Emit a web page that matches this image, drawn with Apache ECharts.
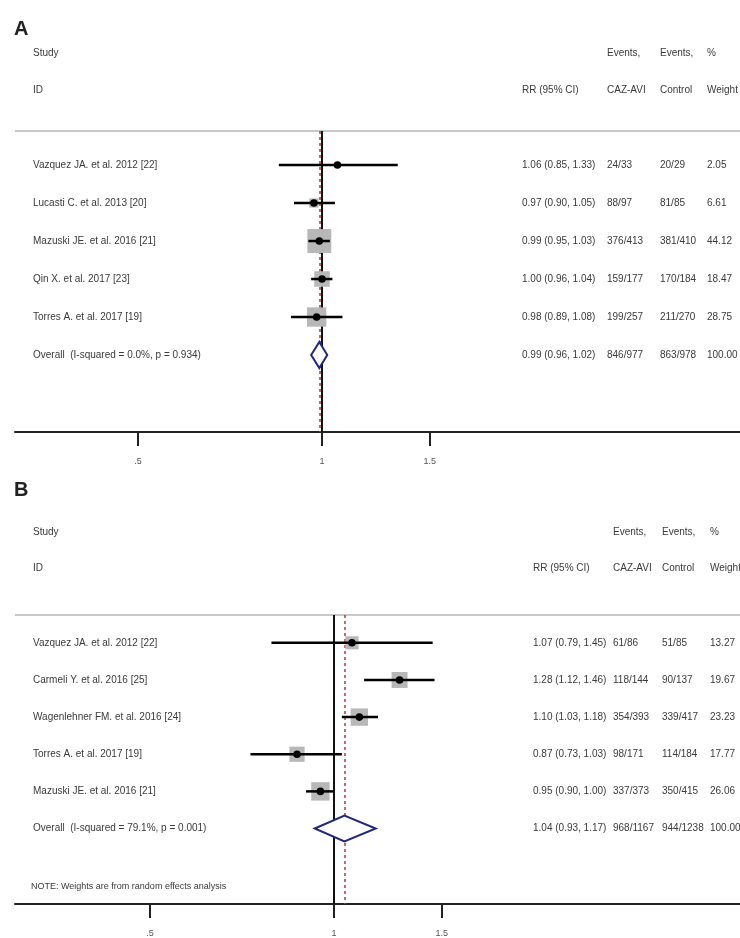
<!DOCTYPE html>
<html><head><meta charset="utf-8">
<script src="https://cdn.jsdelivr.net/npm/echarts@6/dist/echarts.min.js"></script>
<style>html,body{margin:0;padding:0;background:#fff}#c{width:740px;height:938px}</style>
</head><body><div id="c"></div>
<script>
// ---------- Data ----------
const tickRR = [0.5, 1, 1.5];
const tickLabels = ['.5', '1', '1.5'];

const studiesA = ['Vazquez JA. et al. 2012 [22]', 'Lucasti C. et al. 2013 [20]', 'Mazuski JE. et al. 2016 [21]', 'Qin X. et al. 2017 [23]', 'Torres A. et al. 2017 [19]'];
const rrA = [1.06, 0.97, 0.99, 1.00, 0.98];
const lowA = [0.85, 0.90, 0.95, 0.96, 0.89];
const highA = [1.33, 1.05, 1.03, 1.04, 1.08];
const evTrtA = ['24/33', '88/97', '376/413', '159/177', '199/257'];
const evCtrlA = ['20/29', '81/85', '381/410', '170/184', '211/270'];
const weightA = [2.05, 6.61, 44.12, 18.47, 28.75];
const overallA = {label: 'Overall  (I-squared = 0.0%, p = 0.934)', rr: 0.99, low: 0.96, high: 1.02, trt: '846/977', ctrl: '863/978', w: '100.00'};

const studiesB = ['Vazquez JA. et al. 2012 [22]', 'Carmeli Y. et al. 2016 [25]', 'Wagenlehner FM. et al. 2016 [24]', 'Torres A. et al. 2017 [19]', 'Mazuski JE. et al. 2016 [21]'];
const rrB = [1.07, 1.28, 1.10, 0.87, 0.95];
const lowB = [0.79, 1.12, 1.03, 0.73, 0.90];
const highB = [1.45, 1.46, 1.18, 1.03, 1.00];
const evTrtB = ['61/86', '118/144', '354/393', '98/171', '337/373'];
const evCtrlB = ['51/85', '90/137', '339/417', '114/184', '350/415'];
const weightB = [13.27, 19.67, 23.23, 17.77, 26.06];
const overallB = {label: 'Overall  (I-squared = 79.1%, p = 0.001)', rr: 1.04, low: 0.93, high: 1.17, trt: '968/1167', ctrl: '944/1238', w: '100.00'};

const headers1 = ['Study', 'Events,', 'Events,', '%'];
const headers2 = ['ID', 'RR (95% CI)', 'CAZ-AVI', 'Control', 'Weight'];
const noteB = 'NOTE: Weights are from random effects analysis';

// ---------- Layout ----------
const FONT = 'Liberation Sans, Arial, sans-serif';
const TXT = '#3a3a3a';
const FS = 10;
const panels = [
  {letter: 'A', letterY: 30, h1: 53, h2: 90, sep: 131, axisY: 432, xMin: -1.156, xMax: 1.574, yMin: 0.105, yMax: 8.026,
   colX: [33, 522, 607, 660, 707],
   studies: studiesA, rr: rrA, low: lowA, high: highA, trt: evTrtA, ctrl: evCtrlA, w: weightA, ov: overallA},
  {letter: 'B', letterY: 491, h1: 532, h2: 568, sep: 615, axisY: 906, xMin: -1.2015, xMax: 1.529, yMin: 0.251, yMax: 8.032,
   colX: [33, 533, 613, 662, 710],
   studies: studiesB, rr: rrB, low: lowB, high: highB, trt: evTrtB, ctrl: evCtrlB, w: weightB, ov: overallB}
];

const fmt = v => v.toFixed(2);
const ln = Math.log;
const tickVals = tickRR.map(ln);

const grids = [], xAxes = [], yAxes = [], series = [], graphics = [];

panels.forEach((p, k) => {
  grids.push({left: 15, right: 0, top: p.sep, height: p.axisY - p.sep});
  xAxes.push({
    gridIndex: k, type: 'value', min: p.xMin, max: p.xMax, position: 'bottom',
    axisLine: {show: true, onZero: false, lineStyle: {color: '#222', width: 2}},
    axisTick: {show: true, customValues: tickVals, length: 14, lineStyle: {color: '#222', width: 2}},
    axisLabel: {show: true, customValues: tickVals, margin: 25, fontSize: 9, color: '#555', fontFamily: FONT,
      formatter: v => { const i = tickVals.findIndex(t => Math.abs(t - v) < 1e-6); return i >= 0 ? tickLabels[i] : ''; }},
    splitLine: {show: false}
  });
  yAxes.push({gridIndex: k, type: 'value', inverse: true, min: p.yMin, max: p.yMax, show: false});

  const n = p.rr.length;
  const markData = p.rr.map((v, i) => [ln(v), i + 1, ln(p.low[i]), ln(p.high[i]), p.w[i]]);

  // reference lines
  series.push({
    type: 'scatter', xAxisIndex: k, yAxisIndex: k, data: [], silent: true,
    markLine: {
      symbol: 'none', silent: true, label: {show: false}, animation: false,
      data: [
        {xAxis: 0, lineStyle: {color: '#111', width: 2, type: 'solid'}},
        {xAxis: ln(p.ov.rr), lineStyle: {color: '#b03a3a', width: 1.5, type: [3, 3]}}
      ]
    }
  });

  // study marks: weight box, CI line, point
  series.push({
    type: 'custom', xAxisIndex: k, yAxisIndex: k, data: markData, z: 5,
    renderItem: (params, api) => {
      const y = api.value(1);
      const c = api.coord([api.value(0), y]);
      const lo = api.coord([api.value(2), y]);
      const hi = api.coord([api.value(3), y]);
      const s = 36 * Math.sqrt(api.value(4) / 100);
      return {type: 'group', children: [
        {type: 'rect', shape: {x: c[0] - s / 2, y: c[1] - s / 2, width: s, height: s}, style: {fill: '#b8b8b8'}},
        {type: 'line', shape: {x1: lo[0], y1: lo[1], x2: hi[0], y2: hi[1]}, style: {stroke: '#000', lineWidth: 2.5}},
        {type: 'circle', shape: {cx: c[0], cy: c[1], r: 3.8}, style: {fill: '#000'}}
      ]};
    }
  });

  // overall diamond
  series.push({
    type: 'custom', xAxisIndex: k, yAxisIndex: k, z: 6,
    data: [[ln(p.ov.rr), n + 1, ln(p.ov.low), ln(p.ov.high)]],
    renderItem: (params, api) => {
      const y = api.value(1);
      const c = api.coord([api.value(0), y]);
      const lo = api.coord([api.value(2), y]);
      const hi = api.coord([api.value(3), y]);
      const hh = 13;
      return {type: 'polygon', shape: {points: [[lo[0], c[1]], [c[0], c[1] - hh], [hi[0], c[1]], [c[0], c[1] + hh]]},
        style: {fill: '#fff', stroke: '#1f2a7a', lineWidth: 2}};
    }
  });

  // text columns
  const rows = p.studies.map((s, i) => [0, i + 1, s, `${fmt(p.rr[i])} (${fmt(p.low[i])}, ${fmt(p.high[i])})`, p.trt[i], p.ctrl[i], fmt(p.w[i])]);
  rows.push([0, n + 1, p.ov.label, `${fmt(p.ov.rr)} (${fmt(p.ov.low)}, ${fmt(p.ov.high)})`, p.ov.trt, p.ov.ctrl, p.ov.w]);
  series.push({
    type: 'custom', xAxisIndex: k, yAxisIndex: k, data: rows, clip: false, z: 7,
    renderItem: (params, api) => {
      const y = api.coord([0, api.value(1)])[1];
      const d = rows[params.dataIndex];
      return {type: 'group', children: [2, 3, 4, 5, 6].map((j, m) => ({
        type: 'text', style: {text: d[j], x: p.colX[m], y: y, fill: TXT, font: `${FS}px ${FONT}`, textVerticalAlign: 'middle', textAlign: 'left'}
      }))};
    }
  });

  // headers
  graphics.push({type: 'text', left: 14, top: p.letterY - 11, style: {text: p.letter, fill: '#222', font: `bold 20px ${FONT}`}});
  const h1x = [p.colX[0], p.colX[2], p.colX[3], p.colX[4]];
  headers1.forEach((t, i) => graphics.push({type: 'text', x: h1x[i], y: p.h1, style: {text: t, fill: TXT, font: `${FS}px ${FONT}`, textVerticalAlign: 'middle'}}));
  headers2.forEach((t, i) => graphics.push({type: 'text', x: p.colX[i], y: p.h2, style: {text: t, fill: TXT, font: `${FS}px ${FONT}`, textVerticalAlign: 'middle'}}));
  graphics.push({type: 'line', shape: {x1: 15, y1: p.sep, x2: 740, y2: p.sep}, style: {stroke: '#c8c8c8', lineWidth: 2}});
});

graphics.push({type: 'text', x: 31, y: 887, style: {text: noteB, fill: TXT, font: `9px ${FONT}`, textVerticalAlign: 'middle'}});

const chart = echarts.init(document.getElementById('c'), null, {renderer: 'canvas'});
chart.setOption({
  animation: false,
  backgroundColor: '#fff',
  grid: grids, xAxis: xAxes, yAxis: yAxes, series: series, graphic: graphics
});
</script></body></html>
